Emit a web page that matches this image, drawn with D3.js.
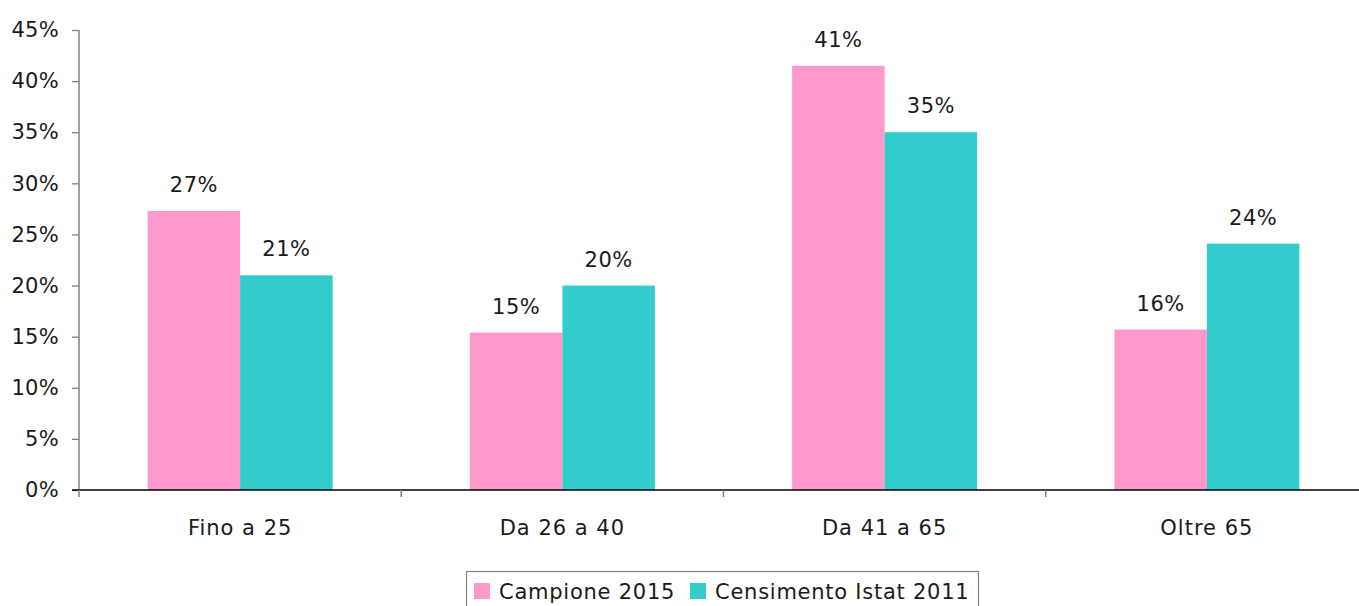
<!DOCTYPE html>
<html>
<head>
<meta charset="utf-8">
<script src="https://cdn.jsdelivr.net/npm/d3@7"></script>
<style>
  body { margin: 0; background: #fff; }
  svg { display: block; font-family: "DejaVu Sans", sans-serif; }
</style>
</head>
<body>
<div id="chart"></div>
<script>
// data
var categories = ["Fino a 25", "Da 26 a 40", "Da 41 a 65", "Oltre 65"];
var seriesNames = ["Campione 2015", "Censimento Istat 2011"];
var campione = [27.3, 15.4, 41.5, 15.7];
var censimento = [21.0, 20.0, 35.0, 24.1];
var campioneLabels = ["27%", "15%", "41%", "16%"];
var censimentoLabels = ["21%", "20%", "35%", "24%"];
var yTicks = [0, 5, 10, 15, 20, 25, 30, 35, 40, 45];

var colors = ["#ff99cc", "#33cccc"];

var width = 1359, height = 606;
var margin = {top: 30, left: 79, right: -9, bottom: 116};
var fontSize = 21;

var svg = d3.select("#chart").append("svg")
  .attr("width", width)
  .attr("height", height);

var x0 = d3.scaleBand()
  .domain(categories)
  .range([margin.left, width - margin.right])
  .paddingInner(0).paddingOuter(0);

var x1 = d3.scaleBand()
  .domain(seriesNames)
  .range([0, x0.bandwidth()])
  .paddingInner(0).paddingOuter(0.742);

var y = d3.scaleLinear()
  .domain([0, 45])
  .range([height - margin.bottom, margin.top]);

var rows = categories.map(function(c, i){
  return {
    cat: c,
    vals: [
      {name: seriesNames[0], v: campione[i], label: campioneLabels[i], color: colors[0]},
      {name: seriesNames[1], v: censimento[i], label: censimentoLabels[i], color: colors[1]}
    ]
  };
});

// bars
var groups = svg.append("g").selectAll("g")
  .data(rows)
  .enter().append("g")
  .attr("transform", function(d){ return "translate(" + x0(d.cat) + ",0)"; });

groups.selectAll("rect")
  .data(function(d){ return d.vals; })
  .enter().append("rect")
  .attr("x", function(d){ return x1(d.name); })
  .attr("y", function(d){ return y(d.v); })
  .attr("width", x1.bandwidth())
  .attr("height", function(d){ return y(0) - y(d.v); })
  .attr("fill", function(d){ return d.color; });

groups.selectAll("text")
  .data(function(d){ return d.vals; })
  .enter().append("text")
  .attr("x", function(d){ return x1(d.name) + x1.bandwidth() / 2; })
  .attr("y", function(d){ return y(d.v) - 19; })
  .attr("text-anchor", "middle")
  .attr("font-size", fontSize)
  .attr("letter-spacing", 0.5)
  .attr("fill", "#1a1a1a")
  .text(function(d){ return d.label; });

// y axis
var yAxis = d3.axisLeft(y)
  .tickValues(yTicks)
  .tickFormat(function(d){ return d + "%"; })
  .tickSize(7)
  .tickPadding(13);

var gy = svg.append("g")
  .attr("transform", "translate(" + margin.left + ",0)")
  .call(yAxis);
gy.select(".domain").attr("stroke", "#808080").attr("stroke-width", 1.5)
  .attr("d", "M0," + y(45) + "V" + y(0));
gy.selectAll(".tick line").attr("stroke", "#808080").attr("stroke-width", 1.3);
gy.selectAll(".tick text").attr("font-size", fontSize).attr("fill", "#1a1a1a")
  .attr("font-family", "DejaVu Sans, sans-serif").attr("letter-spacing", 0.3);

// x axis
var xAxis = d3.axisBottom(x0).tickSize(0).tickPadding(30);
var gx = svg.append("g")
  .attr("transform", "translate(0," + y(0) + ")")
  .call(xAxis);
gx.select(".domain").attr("stroke", "#000").attr("stroke-width", 1.5)
  .attr("d", "M" + (margin.left - 7) + ",0H" + width);
gx.selectAll(".tick text").attr("font-size", fontSize).attr("fill", "#1a1a1a")
  .attr("font-family", "DejaVu Sans, sans-serif").attr("letter-spacing", 1);

// category separators
svg.append("g").selectAll("line")
  .data(categories)
  .enter().append("line")
  .attr("x1", function(d){ return x0(d); })
  .attr("x2", function(d){ return x0(d); })
  .attr("y1", y(0))
  .attr("y2", y(0) + 7)
  .attr("stroke", "#808080")
  .attr("stroke-width", 1.5);

// legend
var legend = svg.append("g");
legend.append("rect")
  .attr("x", 466.5).attr("y", 571.5)
  .attr("width", 512).attr("height", 40)
  .attr("fill", "none").attr("stroke", "#808080").attr("stroke-width", 1.2);

var legendX = [474, 690];
seriesNames.forEach(function(s, i){
  legend.append("rect")
    .attr("x", legendX[i]).attr("y", 583)
    .attr("width", 16).attr("height", 16)
    .attr("fill", colors[i]);
  legend.append("text")
    .attr("x", legendX[i] + 25).attr("y", 599)
    .attr("font-size", fontSize).attr("letter-spacing", 0.75)
    .attr("fill", "#1a1a1a")
    .text(s);
});
</script>
</body>
</html>
